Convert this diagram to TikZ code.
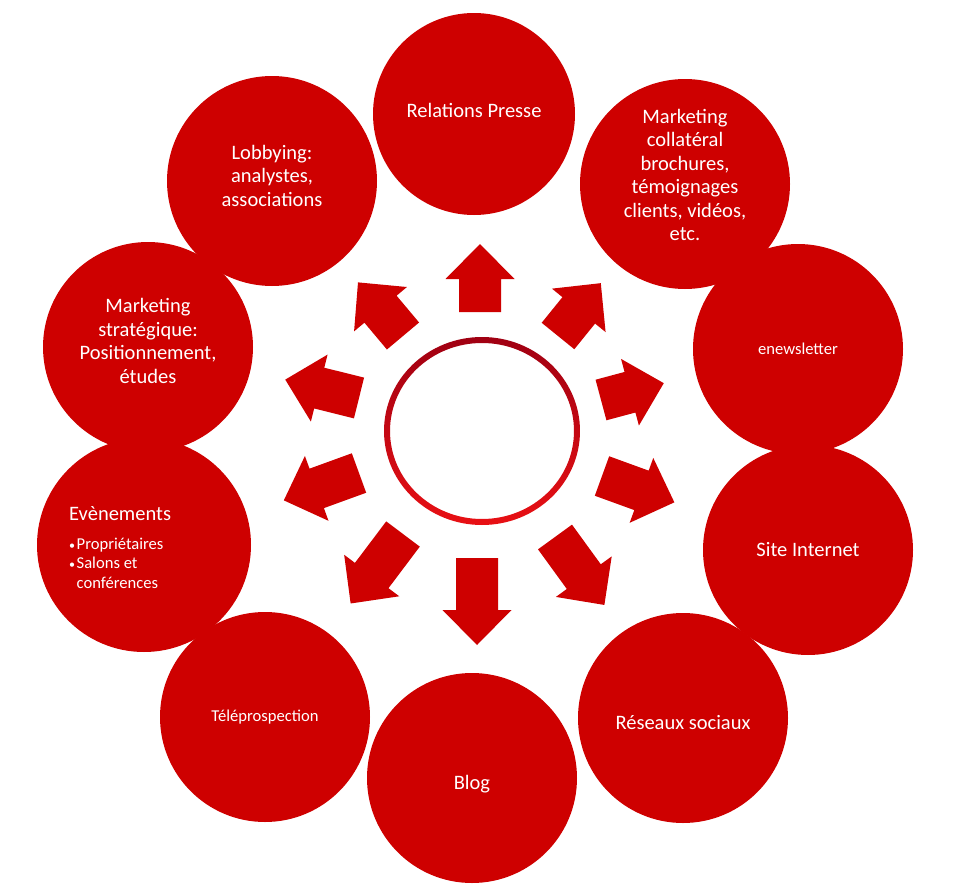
\documentclass[tikz,border=0pt]{standalone}
\usepackage{fontspec}
\setmainfont{Carlito}
\usepackage{tikz}

\definecolor{bubblered}{RGB}{206,0,0}
\definecolor{ringtop}{RGB}{160,0,18}
\definecolor{ringbottom}{RGB}{232,16,20}

\newcommand{\evbullet}{{\fontsize{12}{12}\selectfont\textbullet}\hspace{1.5pt}}

\tikzset{
  bubble/.style={circle, fill=bubblered, minimum size=210pt, inner sep=0pt, text=white, align=center, font=\fontsize{20.5}{23.5}\selectfont},
  smalltext/.style={font=\fontsize{16.6}{19.5}\selectfont},
  pics/burstarrow/.style={code={
    \fill[bubblered] (0,-21) -- ({#1-35},-21) -- ({#1-35},-34.5) -- (#1,0) -- ({#1-35},34.5) -- ({#1-35},21) -- (0,21) -- cycle;
  }}
}

\begin{document}
\begin{tikzpicture}[x=1pt, y=-1pt]
  \useasboundingbox[fill=white] (0,0) rectangle (954,886);
  \node[bubble, minimum size=202pt, text depth=8pt] (presse) at (474,114) {Relations Presse};
  \node[bubble, text depth=18pt] (collateral) at (685,184) {Marketing\\collatéral\\brochures,\\témoignages\\clients, vidéos,\\etc.};
  \node[bubble, smalltext] (news) at (798,349) {enewsletter};
  \node[bubble] (site) at (808,550) {Site Internet};
  \node[bubble, text height=23pt] (reseaux) at (683,718) {Réseaux sociaux};
  \node[bubble, text height=27pt] (blog) at (472,778) {Blog};
  \node[bubble, smalltext] (telepro) at (265,717) {Téléprospection};
  \node[bubble, minimum size=214pt] (evts) at (144,545) {};
  \node[bubble, text depth=12pt] (strat) at (148,347) {Marketing\\stratégique:\\Positionnement,\\études};
  \node[bubble, text depth=11pt] (lobby) at (272,181) {Lobbying:\\analystes,\\associations};
  \node[smalltext, text=white, align=left, inner sep=0pt, anchor=base west] (evtxt) at (69,588) {{\fontsize{20.5}{23.5}\selectfont Evènements}\\[9pt]\evbullet Propriétaires\\\evbullet Salons et\\\hphantom{\evbullet}conférences};
  \coordinate (hub) at (482,431);
  \shade[top color=ringtop, bottom color=ringbottom, even odd rule] (hub) ellipse [x radius=98pt, y radius=94pt] (hub) ellipse [x radius=92pt, y radius=88pt];
  \pic[rotate=90] at (480,312) {burstarrow=68};
  \pic[rotate=51] at (558,336) {burstarrow=68};
  \pic[rotate=15] at (601,400) {burstarrow=65};
  \pic[rotate=-20] at (602,476) {burstarrow=77};
  \pic[rotate=-54] at (555,537) {burstarrow=84};
  \pic[rotate=-90] at (477,558) {burstarrow=87};
  \pic[rotate=-127] at (403,534) {burstarrow=87};
  \pic[rotate=-160] at (359,473) {burstarrow=80};
  \pic[rotate=166] at (359,398) {burstarrow=76};
  \pic[rotate=130] at (403,336) {burstarrow=70};
\end{tikzpicture}
\end{document}
